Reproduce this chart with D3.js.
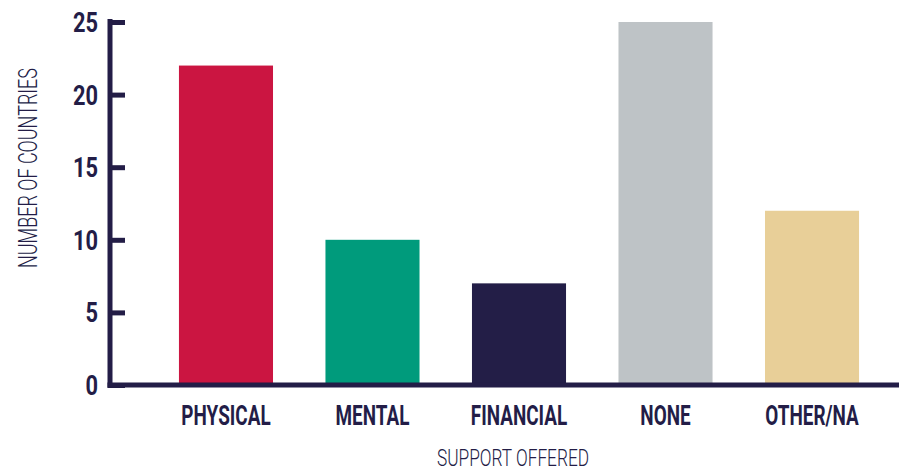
<!DOCTYPE html>
<html><head><meta charset="utf-8">
<script src="https://cdn.jsdelivr.net/npm/d3@7"></script>
<style>html,body{margin:0;padding:0;background:#fff}svg{display:block}</style>
</head><body>
<svg id="c" width="899" height="471"></svg>
<script>
const categories = ["PHYSICAL", "MENTAL", "FINANCIAL", "NONE", "OTHER/NA"];
const values = [22, 10, 7, 25, 12];
const colors = ["#cb1541", "#009b7c", "#231e47", "#bec3c6", "#e8cf98"];
const yTicks = [0, 5, 10, 15, 20, 25];
const xTitle = "SUPPORT OFFERED";
const yTitle = "NUMBER OF COUNTRIES";

const ink = "#231d47";
const svg = d3.select("#c");
const x = d3.scaleBand().domain(categories).range([126.5, 911.5]).paddingInner(0.358).paddingOuter(0.358);
const y = d3.scaleLinear().domain([0, 25]).range([385, 22]);

// bars
svg.append("g").selectAll("rect").data(categories).join("rect")
  .attr("x", d => x(d)).attr("width", x.bandwidth())
  .attr("y", (d, i) => y(values[i]))
  .attr("height", (d, i) => y(0) - y(values[i]))
  .attr("fill", (d, i) => colors[i]);

// y axis
const yAxis = svg.append("g").attr("transform", "translate(110,0)")
  .call(d3.axisRight(y).tickValues(yTicks).tickSize(15).tickFormat(""));
yAxis.select(".domain").remove();
yAxis.selectAll(".tick line").attr("stroke", ink).attr("stroke-width", 5);
svg.append("line").attr("x1", 110).attr("x2", 110).attr("y1", y(25) - 3).attr("y2", y(0) + 3)
  .attr("stroke", ink).attr("stroke-width", 5);

svg.append("g").selectAll("g").data(yTicks).join("g")
  .attr("transform", d => `translate(98,${y(d) + 10}) scale(0.78,1)`)
  .append("text")
  .attr("text-anchor", "end")
  .attr("font-family", "Roboto").attr("font-weight", 700).attr("font-size", 28)
  .attr("fill", ink).text(d => d);

// x axis
const xAxis = svg.append("g").attr("transform", `translate(0,${y(0)})`)
  .call(d3.axisBottom(x).tickSize(0).tickPadding(0).tickFormat(""));
xAxis.select(".domain").remove();
svg.append("line").attr("x1", 107.5).attr("x2", 899).attr("y1", y(0)).attr("y2", y(0))
  .attr("stroke", ink).attr("stroke-width", 5);

svg.append("g").selectAll("g").data(categories).join("g")
  .attr("transform", d => `translate(${x(d) + x.bandwidth() / 2},425) scale(0.70,1)`)
  .append("text")
  .attr("text-anchor", "middle")
  .attr("font-family", "Roboto").attr("font-weight", 700).attr("font-size", 27)
  .attr("fill", ink).text(d => d);

// titles
svg.append("g").attr("transform", "translate(513,466) scale(0.72,1)")
  .append("text").attr("text-anchor", "middle")
  .attr("font-family", "Roboto").attr("font-weight", 300).attr("font-size", 24)
  .attr("fill", ink).text(xTitle);

svg.append("g").attr("transform", "translate(37,168) rotate(-90) scale(0.72,1)")
  .append("text").attr("text-anchor", "middle")
  .attr("font-family", "Roboto").attr("font-weight", 300).attr("font-size", 25)
  .attr("fill", ink).text(yTitle);
</script>
</body></html>
